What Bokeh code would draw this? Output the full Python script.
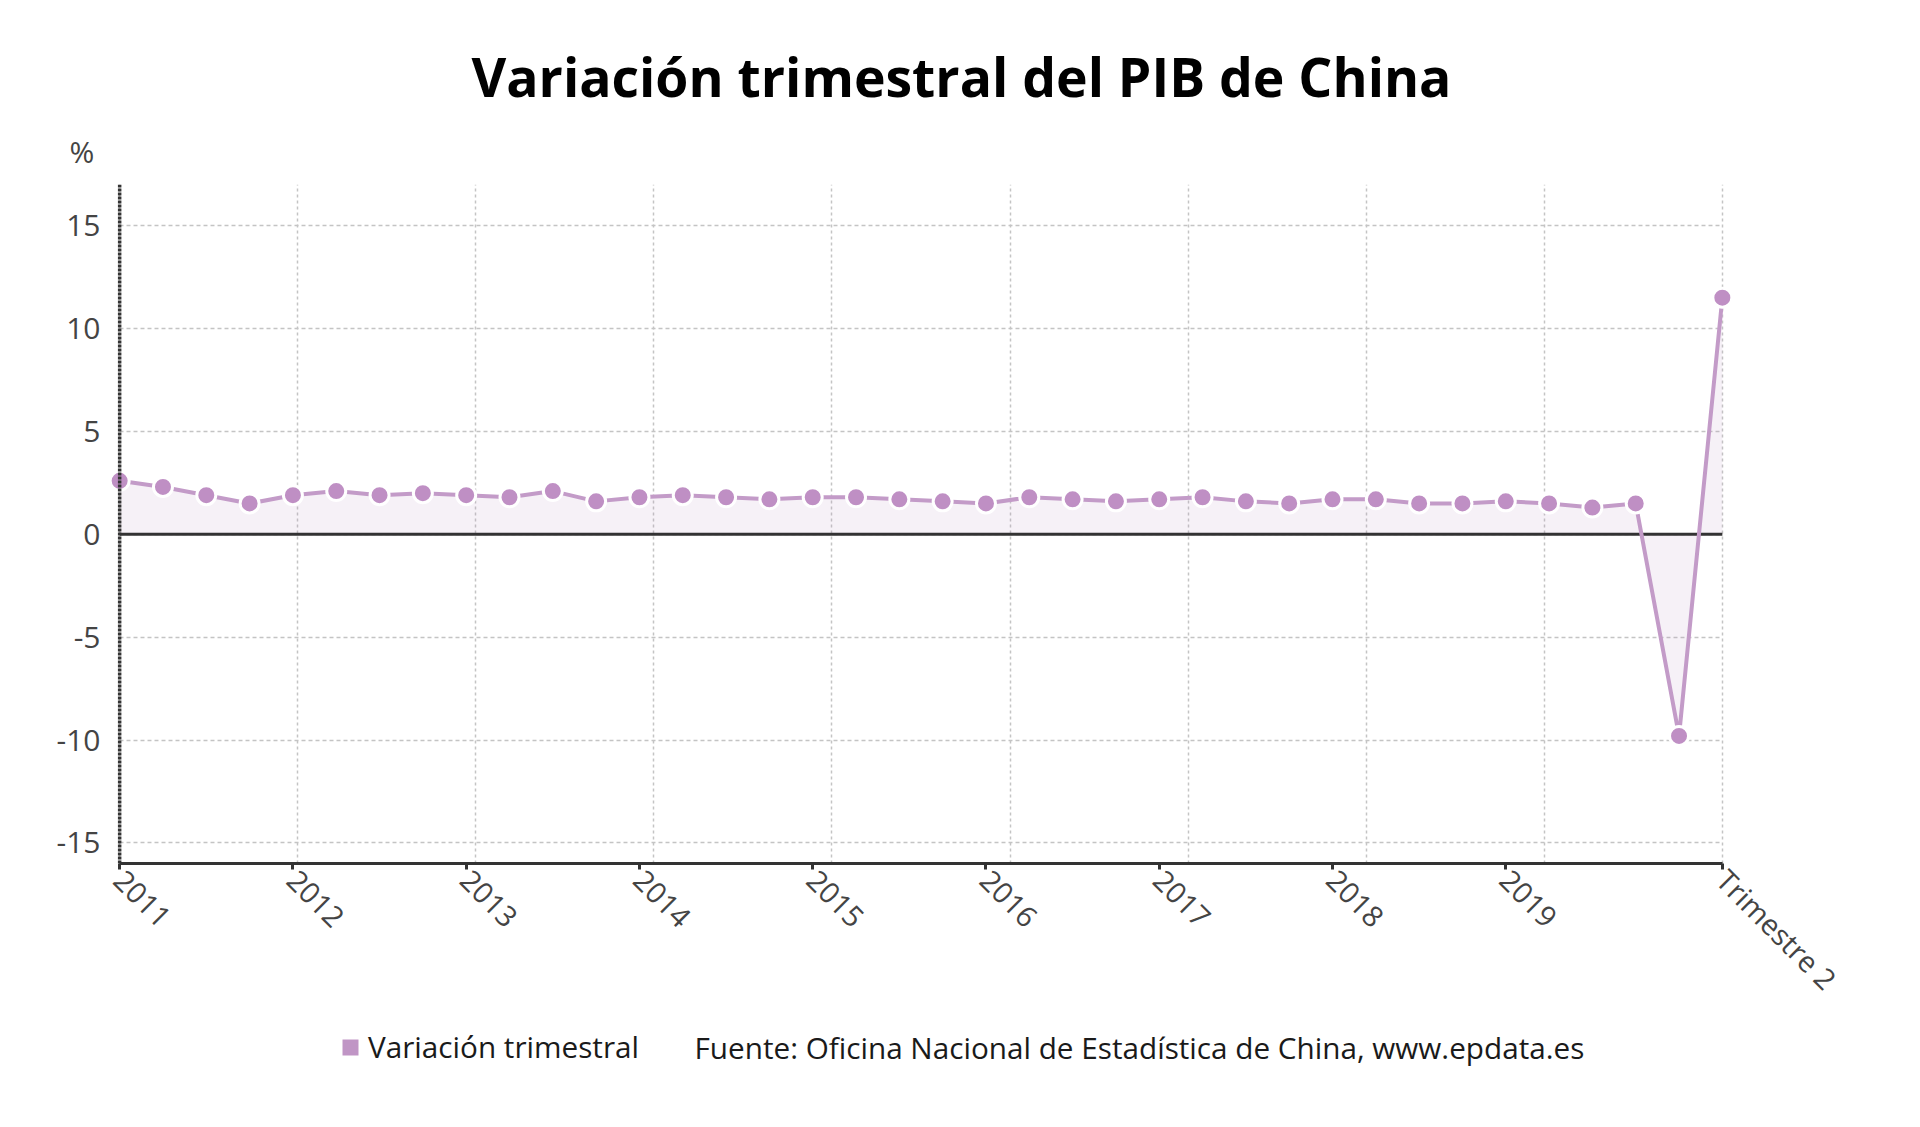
import math
from bokeh.plotting import figure
from bokeh.layouts import column
from bokeh.models import (Range1d, FixedTicker, Span, Title, Legend,
                          LegendItem, Label)
from bokeh.embed import file_html
from bokeh.resources import INLINE

# ---------------- data ----------------
title_text = "Variación trimestral del PIB de China"
unit_text = "%"
series_name = "Variación trimestral"
source_text = "Fuente: Oficina Nacional de Estadística de China, www.epdata.es"

quarters = [
    "2011-T1", "2011-T2", "2011-T3", "2011-T4",
    "2012-T1", "2012-T2", "2012-T3", "2012-T4",
    "2013-T1", "2013-T2", "2013-T3", "2013-T4",
    "2014-T1", "2014-T2", "2014-T3", "2014-T4",
    "2015-T1", "2015-T2", "2015-T3", "2015-T4",
    "2016-T1", "2016-T2", "2016-T3", "2016-T4",
    "2017-T1", "2017-T2", "2017-T3", "2017-T4",
    "2018-T1", "2018-T2", "2018-T3", "2018-T4",
    "2019-T1", "2019-T2", "2019-T3", "2019-T4",
    "2020-T1", "2020-T2",
]
variation = [
    2.6, 2.3, 1.9, 1.5,
    1.9, 2.1, 1.9, 2.0,
    1.9, 1.8, 2.1, 1.6,
    1.8, 1.9, 1.8, 1.7,
    1.8, 1.8, 1.7, 1.6,
    1.5, 1.8, 1.7, 1.6,
    1.7, 1.8, 1.6, 1.5,
    1.7, 1.7, 1.5, 1.5,
    1.6, 1.5, 1.3, 1.5,
    -9.8, 11.5,
]
x_tick_quarters = ["2011-T1", "2012-T1", "2013-T1", "2014-T1", "2015-T1",
                   "2016-T1", "2017-T1", "2018-T1", "2019-T1", "2020-T2"]
x_tick_labels = ["2011", "2012", "2013", "2014", "2015",
                 "2016", "2017", "2018", "2019", "Trimestre 2"]
y_ticks = [-15, -10, -5, 0, 5, 10, 15]
y_tick_labels = ["-15", "-10", "-5", "0", "5", "10", "15"]

# ---------------- style ----------------
FONT = "Open Sans"
LILAC = "#bf8fc4"
LINE_LILAC = "#c39bc8"
DARK = "#333333"
GRID = "#c4c4c4"
TICK_TXT = "#444444"

n = len(quarters)
xs = list(range(n))
last = n - 1
pad = 0.35

W = 1904
H_MAIN = 1023
H_LEG = 88

p = figure(width=W, height=H_MAIN, title=None,
           x_range=Range1d(-pad, last + pad), y_range=Range1d(-16, 17),
           output_backend="svg", toolbar_location=None,
           min_border_left=104, min_border_right=167,
           min_border_top=184, min_border_bottom=H_MAIN - 863)
p.outline_line_color = None
p.background_fill_color = "white"
p.border_fill_color = "white"

# grids
p.xgrid.ticker = FixedTicker(ticks=[k * last / 9 for k in range(10)])
p.xgrid.grid_line_color = GRID
p.xgrid.grid_line_dash = "3 3"
p.xgrid.grid_line_width = 1.5
p.ygrid.ticker = FixedTicker(ticks=y_ticks)
p.ygrid.grid_line_color = GRID
p.ygrid.grid_line_dash = "4 3"
p.ygrid.grid_line_width = 1.5
try:
    p.ygrid.cross_bounds = (0, last)
except Exception:
    pass

# x axis
tick_pos = [quarters.index(q) for q in x_tick_quarters]
xa = p.xaxis[0]
xa.ticker = FixedTicker(ticks=tick_pos)
xa.major_label_overrides = {pos: lab for pos, lab in zip(tick_pos, x_tick_labels)}
xa.bounds = (0, last)
xa.axis_line_color = DARK
xa.axis_line_width = 3
xa.major_tick_line_color = DARK
xa.major_tick_line_width = 3
xa.major_tick_out = 6
xa.major_tick_in = 0
xa.minor_tick_line_color = None
xa.major_label_orientation = -math.pi / 4
xa.major_label_text_font = FONT
xa.major_label_text_font_size = "29px"
xa.major_label_text_color = TICK_TXT
xa.major_label_standoff = 5

# y axis
ya = p.yaxis[0]
ya.ticker = FixedTicker(ticks=y_ticks)
ya.major_label_overrides = {t: lab for t, lab in zip(y_ticks, y_tick_labels)}
ya.axis_line_color = None
ya.major_tick_line_color = None
ya.major_tick_out = 0
ya.major_tick_in = 0
ya.minor_tick_line_color = None
ya.major_label_text_font = FONT
ya.major_label_text_font_size = "30px"
ya.major_label_text_color = TICK_TXT
ya.major_label_standoff = 4

# series
p.varea(x=xs, y1=0, y2=variation, fill_color="#b98fc0", fill_alpha=0.13)
p.line(x=[xs[0], xs[-1]], y=[0, 0], line_color=DARK, line_width=3)
p.line(x=xs, y=variation, line_color=LINE_LILAC, line_width=4)
p.scatter(x=xs, y=variation, size=19, fill_color=LILAC,
          line_color="white", line_width=3)

# left axis line at first quarter
p.add_layout(Span(location=0, dimension="height", line_color=DARK,
                  line_width=3.5, line_dash="3 1"))

# titles (first added = closest to the frame)
p.add_layout(Title(text=unit_text, align="left", offset=-35,
                   text_font=FONT, text_font_style="normal",
                   text_font_size="30px", text_color=TICK_TXT, standoff=25),
             "above")
p.add_layout(Title(text=title_text, align="left", offset=367,
                   text_font=FONT, text_font_style="bold",
                   text_font_size="53.5px", text_color="#000000", standoff=7),
             "above")

# ---------------- legend strip ----------------
p2 = figure(width=W, height=H_LEG, x_range=Range1d(0, 1), y_range=Range1d(0, 1),
            x_axis_type=None, y_axis_type=None,
            output_backend="svg", toolbar_location=None, min_border=0)
p2.outline_line_color = None
p2.background_fill_color = "white"
p2.border_fill_color = "white"

# swatch renderer: its single rect lies outside the strip's visible range
r_leg = p2.rect(x=[5], y=[5], width=1, height=1,
                fill_color="#c095c5", line_color=None)
legend = Legend(items=[LegendItem(label=series_name, renderers=[r_leg], index=0)],
                location=(236, 44), orientation="horizontal",
                border_line_color=None, background_fill_alpha=0,
                padding=0, margin=0,
                glyph_width=20, glyph_height=20,
                label_standoff=8, label_text_font=FONT,
                label_text_font_size="29.7px", label_text_color="#1a1a1a")
p2.add_layout(legend, "center")
p2.add_layout(Label(x=590, y=64, x_units="screen", y_units="screen",
                    text=source_text, text_align="left", text_baseline="middle",
                    text_font=FONT, text_font_size="29.7px",
                    text_color="#1a1a1a"))

layout = column(p, p2, spacing=0)
open("out.html", "w").write(file_html(layout, INLINE))
